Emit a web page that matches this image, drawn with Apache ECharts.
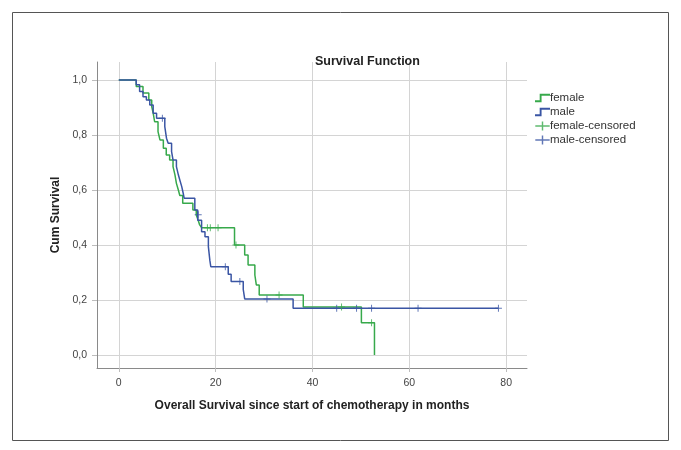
<!DOCTYPE html>
<html>
<head>
<meta charset="utf-8">
<script src="https://cdn.jsdelivr.net/npm/echarts@6/dist/echarts.min.js"></script>
<style>
  html, body { margin: 0; padding: 0; background: #fff; }
  #chart { width: 681px; height: 450px; }
</style>
</head>
<body>
<div id="chart"></div>
<script>
// Kaplan-Meier steps: [months, cum survival]
const femaleSteps = [
  [0, 1.0], [3.6, 0.976], [5.0, 0.952], [6.2, 0.927], [6.8, 0.903],
  [7.1, 0.879], [7.4, 0.848], [8.1, 0.812], [8.5, 0.782], [9.2, 0.752],
  [9.8, 0.727], [10.5, 0.709], [11.2, 0.685], [11.6, 0.655], [11.9, 0.624],
  [12.3, 0.6], [12.6, 0.58], [13.2, 0.552], [15.3, 0.527], [16.0, 0.509],
  [16.4, 0.49], [16.7, 0.473], [17.1, 0.463], [23.9, 0.4], [26.0, 0.364],
  [26.7, 0.327], [28.1, 0.291], [28.4, 0.255], [29.0, 0.218], [38.1, 0.175],
  [50.1, 0.117], [52.8, 0.0]
];
const maleSteps = [
  [0, 1.0], [3.6, 0.982], [4.3, 0.958], [5.0, 0.939], [5.7, 0.927],
  [6.4, 0.909], [7.1, 0.879], [7.8, 0.861], [9.5, 0.83], [9.85, 0.788],
  [10.2, 0.77], [10.9, 0.739], [11.2, 0.709], [11.9, 0.685], [12.3, 0.655],
  [12.6, 0.636], [13.0, 0.612], [13.3, 0.588], [13.5, 0.57], [15.7, 0.527],
  [16.3, 0.49], [17.1, 0.448], [17.8, 0.43], [18.5, 0.394], [18.8, 0.345],
  [19.0, 0.321], [22.6, 0.294], [23.2, 0.267], [25.7, 0.239], [26.0, 0.204],
  [36.0, 0.17], [78.4, 0.17]
];
const femaleCensored = [
  [18.3, 0.463], [18.9, 0.463], [20.5, 0.463], [24.2, 0.4], [33.1, 0.218],
  [46.0, 0.175], [52.2, 0.117]
];
const maleCensored = [
  [9.0, 0.861], [16.4, 0.51], [22.0, 0.321], [25.0, 0.267], [30.6, 0.204],
  [45.0, 0.17], [49.1, 0.17], [52.2, 0.17], [61.8, 0.17], [78.4, 0.17]
];
const xTicks = [0, 20, 40, 60, 80];
const yTicks = [0, 0.2, 0.4, 0.6, 0.8, 1.0];

const green = "#37a94b";
const blue = "#3a55a4";
const font = "Liberation Sans";

const stepIcon = "path://M0,8 L5,8 L5,1 L16,1 L16,3 L7,3 L7,10 L0,10 Z";
const plusIcon = "path://M0,4.3 L7.2,4.3 L7.2,0 L8.8,0 L8.8,4.3 L16,4.3 L16,5.7 L8.8,5.7 L8.8,10 L7.2,10 L7.2,5.7 L0,5.7 Z";
const censorMark = "path://M0,4.3 L4.3,4.3 L4.3,0 L5.7,0 L5.7,4.3 L10,4.3 L10,5.7 L5.7,5.7 L5.7,10 L4.3,10 L4.3,5.7 L0,5.7 Z";

let chart = echarts.init(document.getElementById("chart"));

let option = {
  animation: false,
  title: {
    text: "Survival Function",
    left: 310,
    top: 50,
    textStyle: { fontFamily: font, fontSize: 12.5, fontWeight: "bold", color: "#222" },
  },
  legend: {
    orient: "vertical",
    left: 530,
    top: 87,
    itemWidth: 15,
    itemHeight: 9,
    itemGap: 2,
    textStyle: { fontFamily: font, fontSize: 11.5, color: "#333", padding: [0, 0, 0, -5] },
    data: [
      { name: "female", icon: stepIcon },
      { name: "male", icon: stepIcon },
      { name: "female-censored", icon: plusIcon },
      { name: "male-censored", icon: plusIcon },
    ],
  },
  grid: { left: 97, right: 154, top: 62, bottom: 82 },
  xAxis: {
    type: "value",
    min: -4.5,
    max: 84.3,
    name: "Overall Survival since start of chemotherapy in months",
    nameLocation: "middle",
    nameGap: 32,
    nameTextStyle: { fontFamily: font, fontSize: 12, fontWeight: "bold", color: "#222" },
    axisLine: { onZero: false, lineStyle: { color: "#8a8a8a", width: 1 } },
    axisTick: { show: true, length: 4, customValues: xTicks, lineStyle: { color: "#bdbdbd" } },
    axisLabel: { customValues: xTicks, fontFamily: font, fontSize: 10.5, color: "#444", margin: 10 },
    splitLine: { show: true, lineStyle: { color: "#d4d4d4", width: 1 } },
  },
  yAxis: {
    type: "value",
    min: -0.047,
    max: 1.065,
    name: "Cum Survival",
    nameLocation: "middle",
    nameRotate: 90,
    nameGap: 29,
    nameTextStyle: { fontFamily: font, fontSize: 12, fontWeight: "bold", color: "#222" },
    axisLine: { show: true, onZero: false, lineStyle: { color: "#8a8a8a", width: 1 } },
    axisTick: { show: true, length: 5, customValues: yTicks, lineStyle: { color: "#bdbdbd" } },
    axisLabel: {
      customValues: yTicks,
      fontFamily: font,
      fontSize: 10.5,
      color: "#444",
      margin: 10,
      formatter: (v) => v.toFixed(1).replace(".", ","),
    },
    splitLine: { show: true, lineStyle: { color: "#d4d4d4", width: 1 } },
  },
  series: [
    {
      name: "female",
      type: "line",
      step: "end",
      data: femaleSteps,
      showSymbol: false,
      lineStyle: { color: green, width: 1.5 },
      itemStyle: { color: green },
      z: 2,
    },
    {
      name: "male",
      type: "line",
      step: "end",
      data: maleSteps,
      showSymbol: false,
      lineStyle: { color: blue, width: 1.5 },
      itemStyle: { color: blue },
      z: 3,
    },
    {
      name: "female-censored",
      type: "scatter",
      data: femaleCensored,
      symbol: censorMark,
      symbolSize: 7,
      itemStyle: { color: green },
      z: 4,
    },
    {
      name: "male-censored",
      type: "scatter",
      data: maleCensored,
      symbol: censorMark,
      symbolSize: 7,
      itemStyle: { color: blue },
      z: 5,
    },
  ],
  graphic: [
    {
      type: "rect",
      shape: { x: 12.5, y: 12.5, width: 656, height: 428 },
      style: { fill: null, stroke: "#555", lineWidth: 1 },
      silent: true,
    },
  ],
};

chart.setOption(option);
</script>
</body>
</html>
